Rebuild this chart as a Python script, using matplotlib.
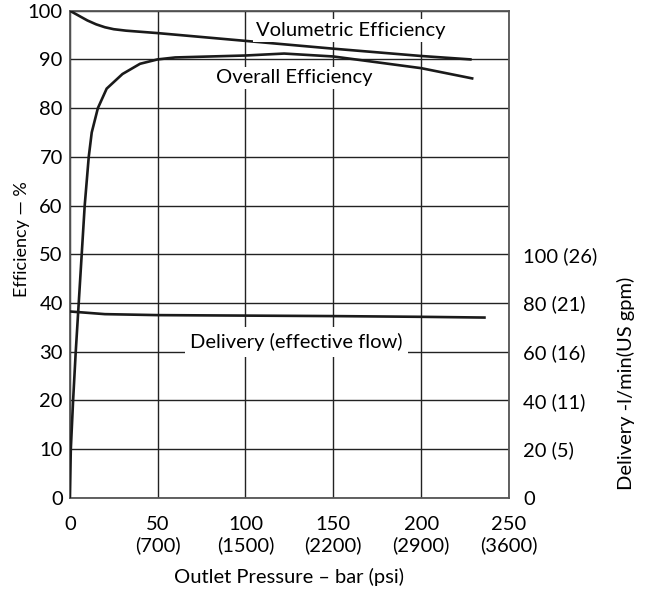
import matplotlib.pyplot as plt

# ================= DATA =================
# outlet pressure in bar
vol_x = [0, 5, 10, 15, 20, 25, 32, 50, 100, 150, 200, 228]
vol_y = [100, 99, 98, 97.2, 96.6, 96.2, 95.9, 95.4, 93.8, 92.2, 90.7, 90]

overall_x = [0, 0.6, 1.9, 3.4, 5.1, 6.8, 8.5, 10.8, 12.5, 16, 21, 30, 40, 50, 60, 100, 122, 150, 200, 229]
overall_y = [0, 10, 20, 30, 40, 50, 60, 70, 75, 80, 84, 87, 89.1, 90, 90.4, 90.8, 91.2, 90.6, 88.2, 86.1]

# delivery in l/min (right axis)
deliv_x = [0, 20, 50, 100, 150, 200, 236]
deliv_y = [76.5, 75.4, 75.0, 74.8, 74.6, 74.3, 74.0]

x_ticks = [0, 50, 100, 150, 200, 250]
x_labels = ["0", "50\n(700)", "100\n(1500)", "150\n(2200)", "200\n(2900)", "250\n(3600)"]
right_ticks = [0, 20, 40, 60, 80, 100]
right_labels = ["0", "20 (5)", "40 (11)", "60 (16)", "80 (21)", "100 (26)"]
# ========================================

plt.rcParams['font.family'] = ['Lato', 'DejaVu Sans']
FS = 14.5

fig = plt.figure(figsize=(6.46, 5.94), dpi=100)
ax = fig.add_axes([0.108, 0.162, 0.680, 0.820])

ax.set_xlim(0, 250)
ax.set_ylim(0, 100)
ax.set_xticks(x_ticks)
ax.set_xticklabels(x_labels, fontsize=FS, linespacing=1.2)
ax.set_yticks(range(0, 101, 10))
ax.tick_params(axis='y', length=0, labelsize=FS, pad=5)
ax.tick_params(axis='x', length=0, labelsize=FS, pad=13)
ax.grid(True, color='#222222', linewidth=1.0)
ax.set_axisbelow(True)
for s in ax.spines.values():
    s.set_color('#555555')
    s.set_linewidth(1.3)

ax.plot(vol_x, vol_y, color='#1a1a1a', linewidth=1.9, zorder=3)
ax.plot(overall_x, overall_y, color='#1a1a1a', linewidth=1.9, zorder=3)

ax.set_xlabel("Outlet Pressure – bar (psi)", fontsize=FS, labelpad=10)
ax.set_ylabel("Efficiency — %", fontsize=13)
ax.yaxis.set_label_coords(-0.09, 0.53)

ax2 = ax.twinx()
ax2.set_ylim(0, 200)
ax2.set_yticks(right_ticks)
ax2.set_yticklabels(right_labels)
ax2.tick_params(axis='y', length=0, labelsize=FS, pad=10)
for s in ax2.spines.values():
    s.set_visible(False)
ax2.plot(deliv_x, deliv_y, color='#1a1a1a', linewidth=1.9, zorder=3)
ax2.set_ylabel("Delivery -l/min(US gpm)", fontsize=FS)
ax2.yaxis.set_label_coords(1.245, 0.235)

box = dict(facecolor='white', edgecolor='none', pad=2)
ax.text(160, 95.9, "Volumetric Efficiency", fontsize=FS, ha='center', va='center', bbox=box, zorder=4)
ax.text(128, 86.2, "Overall Efficiency", fontsize=FS, ha='center', va='center', bbox=box, zorder=4)
ax.text(129, 32, "Delivery (effective flow)", fontsize=FS, ha='center', va='center',
        bbox=dict(facecolor='white', edgecolor='none', pad=4), zorder=4)

fig.savefig("out.png", dpi=100)
